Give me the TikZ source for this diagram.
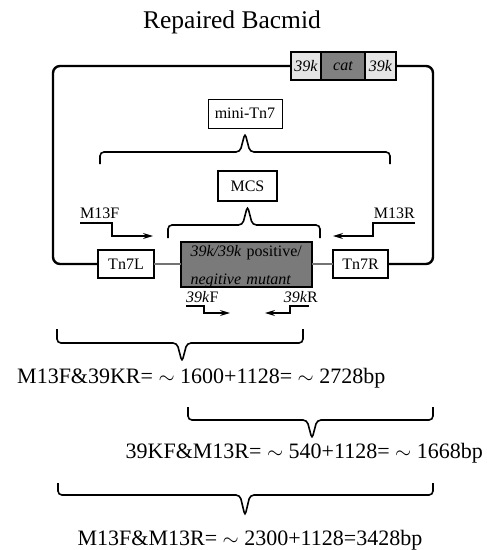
\documentclass[tikz,border=0pt]{standalone}
\usepackage{fontspec}
\setmainfont{Liberation Serif}
\usetikzlibrary{arrows.meta,positioning}

\begin{document}
\begin{tikzpicture}[x=1pt,y=-1pt,
			box/.style={draw,line width=2pt,fill=white,outer sep=0pt,inner sep=0pt,font=\fontsize{16}{19}\selectfont},
			seg/.style={draw,line width=2pt,outer sep=0pt,inner sep=0pt,minimum height=28pt,font=\fontsize{16}{18}\selectfont\itshape},
			brace/.style={line width=1.6pt,rounded corners=4pt},
			primer/.style={line width=1.2pt,-{Stealth[length=10pt,width=6pt]}},
			loopline/.style={line width=2.4pt,rounded corners=7pt},
			lbl/.style={inner sep=0pt,font=\fontsize{16}{19}\selectfont},
			sum/.style={inner sep=0pt,font=\fontsize{22}{26}\selectfont}]
\useasboundingbox (0,0) rectangle (487,550);
\node[anchor=base,inner sep=0pt,font=\fontsize{25.5}{30}\selectfont] (title) at (232,28) {Repaired Bacmid};

% 39k - cat - 39k block on the loop
\node[seg,fill=black!10,minimum width=30pt] (k1) at (306,66) {39k};
\node[seg,fill=black!50,minimum width=44pt,right=0pt of k1] (cat) {cat};
\node[seg,fill=black!10,minimum width=31pt,right=0pt of cat] (k2) {39k};

\node[box,line width=1pt,minimum width=74pt,minimum height=29pt] (mini) at (245,113.5) {mini-Tn7};
\node[box,line width=2.5pt,minimum width=59pt,minimum height=30pt] (MCS) at (247.5,186) {MCS};
\node[box,minimum width=56pt,minimum height=28pt] (Tn7L) at (126,264) {Tn7L};
\node[box,minimum width=55pt,minimum height=28pt] (Tn7R) at (360.5,264) {Tn7R};
\node[box,fill=black!52,minimum height=45pt,minimum width=131pt] (mut) at (246.5,264.5) {};
\node[inner sep=0pt,text width=115pt,align=left,font=\fontsize{16}{28}\selectfont]
	(muttext) at (248,266.5) {\textit{39k/39k} positive/\\\textit{negitive mutant}};

\draw[loopline] (k1.west) -- (53,66) -- (53,264) -- (Tn7L.west);
\draw[loopline] (k2.east) -- (433,66) -- (433,264) -- (Tn7R.east);
\draw[black!55,line width=1.5pt] (Tn7L.east) -- (mut.west |- Tn7L.east);
\draw[black!55,line width=1.5pt] (mut.east |- Tn7R.west) -- (Tn7R.west);

\node[lbl,anchor=base west] (M13F) at (80,218) {M13F};
\node[lbl,anchor=base east] (M13R) at (415,218) {M13R};
\node[lbl,anchor=base west] (kF) at (186,302) {\textit{39k}F};
\node[lbl,anchor=base east] (kR) at (318,302) {\textit{39k}R};
\draw[primer] (M13F.base west) ++(0,5) -- ++(32,0) -- ++(0,13) -- ++(41,0);
\draw[primer] (M13R.base east) ++(0,5) -- ++(-42,0) -- ++(0,13) -- ++(-40,0);
\draw[primer] (kF.base west) ++(0,4) -- ++(18,0) -- ++(0,7) -- ++(26,0);
\draw[primer] (kR.base east) ++(-9,4) -- ++(-19,0) -- ++(0,7) -- ++(-25,0);

\draw[brace] (100,164) -- (100,152) -- (240,152) -- (245,133) -- (250,152) -- (390,152) -- (390,164);
\draw[brace] (168,238) -- (168,225) -- (242.5,225) -- (247.5,206) -- (252.5,225) -- (320,225) -- (320,238);
\draw[brace] (57,329) -- (57,343) -- (177,343) -- (182,362) -- (187,343) -- (303,343) -- (303,329);
\draw[brace] (188,407) -- (188,420) -- (307,420) -- (312,439) -- (317,420) -- (433,420) -- (433,407);
\draw[brace] (58,483) -- (58,495) -- (240,495) -- (245,516) -- (250,495) -- (433,495) -- (433,483);

\node[sum,anchor=base west] (pcr1) at (17,383) {M13F\&39KR= $\sim$ 1600+1128= $\sim$ 2728bp};
\node[sum,anchor=base east] (pcr2) at (483,458) {39KF\&M13R= $\sim$ 540+1128= $\sim$ 1668bp};
\node[sum,anchor=base] (pcr3) at (250,545) {M13F\&M13R= $\sim$ 2300+1128=3428bp};
\end{tikzpicture}
\end{document}
